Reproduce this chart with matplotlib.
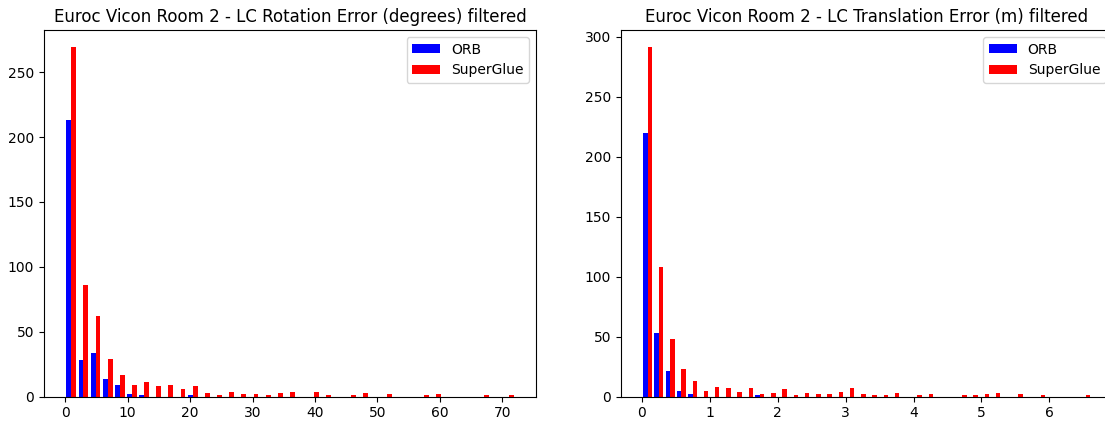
# Histogramas de erro de loop closure (ORB x SuperGlue) - Euroc Vicon Room 2
import numpy as np
import matplotlib.pyplot as plt

labels = ['ORB', 'SuperGlue']
cores = ['blue', 'red']

# erro de rotacao (graus), 37 bins entre 0 e 72
rot_range = (0.0, 72.0)
rot_bins = 37
orb_rot = [213, 28, 34, 14, 9, 2, 1, 0, 0, 0, 1, 0, 0, 0, 0, 0, 0, 0, 0, 0,
           0, 0, 0, 0, 0, 0, 0, 0, 0, 0, 0, 0, 0, 0, 0, 0, 0]
sg_rot = [269, 86, 62, 29, 17, 9, 11, 8, 9, 6, 8, 3, 1, 4, 2, 2, 1, 3, 4, 0,
          4, 1, 0, 1, 3, 0, 2, 0, 0, 1, 2, 0, 0, 0, 1, 0, 1]

# erro de translacao (m), 40 bins entre 0 e 6.62
trans_range = (0.0, 6.62)
trans_bins = 40
orb_trans = [220, 53, 21, 5, 2, 0, 0, 0, 0, 0, 1, 0, 0, 0, 0, 0, 0, 0, 0, 0,
             0, 0, 0, 0, 0, 0, 0, 0, 0, 0, 0, 0, 0, 0, 0, 0, 0, 0, 0, 0]
sg_trans = [291, 108, 48, 23, 13, 5, 8, 7, 4, 7, 2, 3, 6, 1, 3, 2, 2, 4, 7, 2,
            1, 1, 3, 0, 1, 2, 0, 0, 1, 1, 2, 3, 0, 2, 0, 1, 0, 0, 0, 1]


def plot_hist(ax, faixa, nbins, orb, sg, titulo):
    edges = np.linspace(faixa[0], faixa[1], nbins + 1)
    centros = (edges[:-1] + edges[1:]) / 2
    ax.hist([centros, centros], bins=edges, weights=[orb, sg],
            color=cores, label=labels)
    ax.set_title(titulo)
    ax.legend(loc='upper right')


fig = plt.figure(figsize=(11.05, 4.23), dpi=100)
W, H = 1105.0, 423.0
ax1 = fig.add_axes([44 / W, 26.3 / H, 492 / W, 366.7 / H])
ax2 = fig.add_axes([620.7 / W, 26.3 / H, 492 / W, 366.7 / H])

plot_hist(ax1, rot_range, rot_bins, orb_rot, sg_rot,
          'Euroc Vicon Room 2 - LC Rotation Error (degrees) filtered')
plot_hist(ax2, trans_range, trans_bins, orb_trans, sg_trans,
          'Euroc Vicon Room 2 - LC Translation Error (m) filtered')

fig.savefig('out.png', dpi=100)
